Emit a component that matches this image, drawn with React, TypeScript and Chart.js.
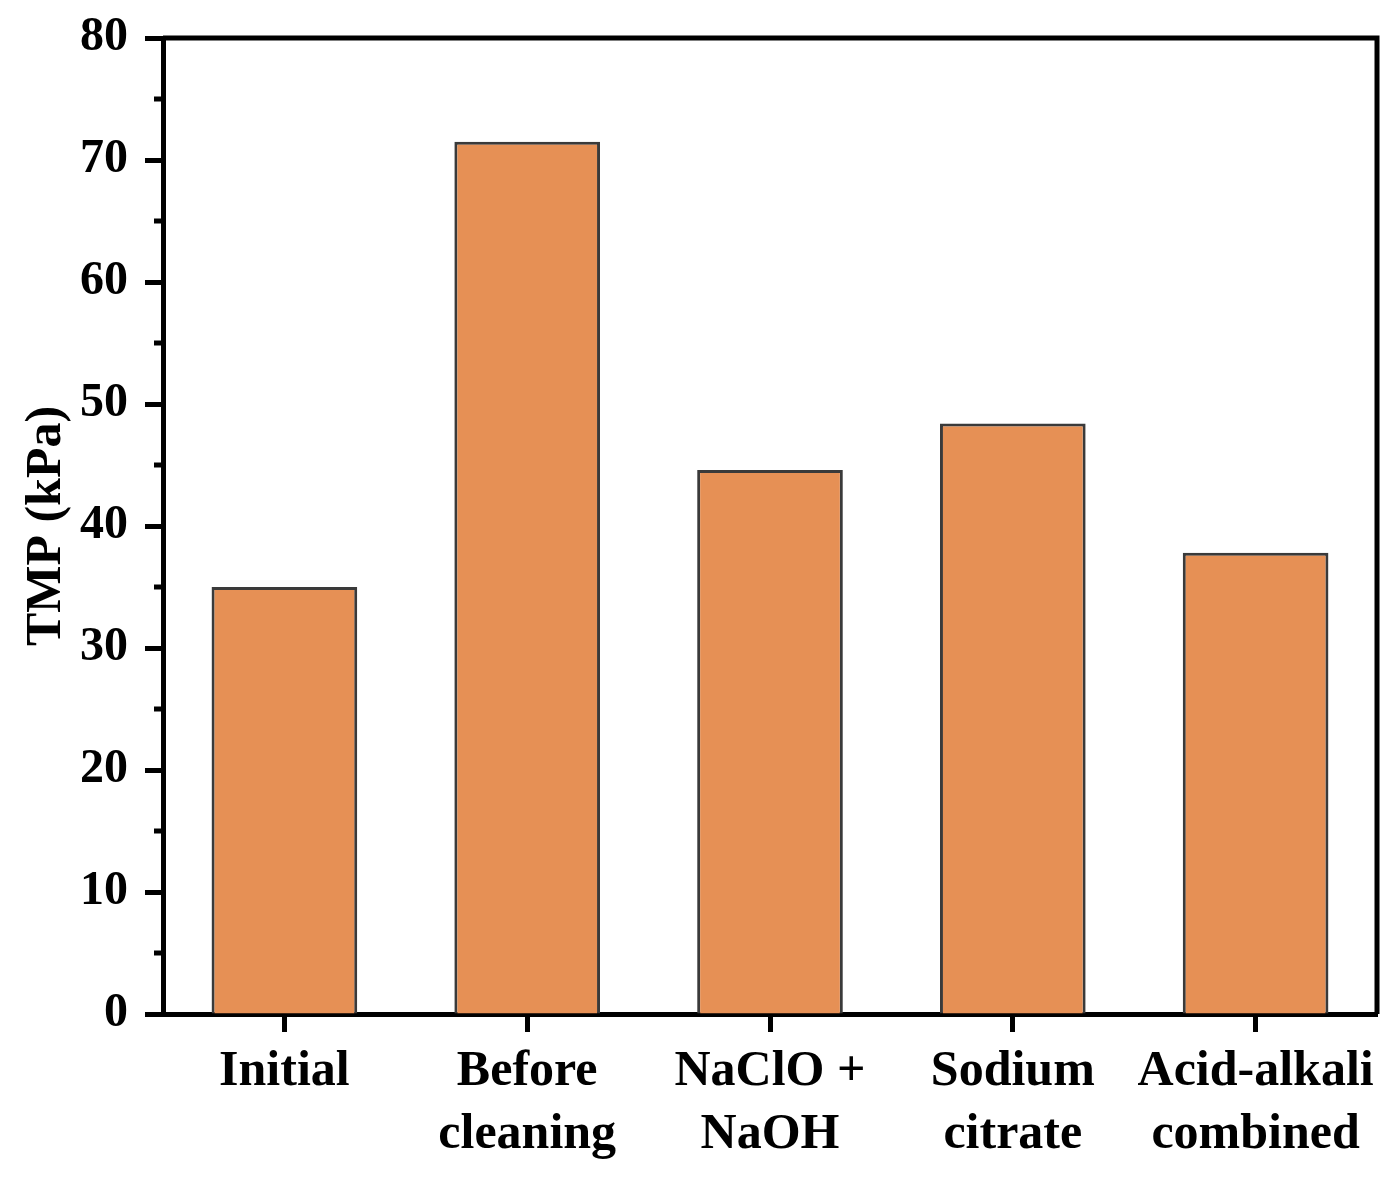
import React, { useEffect, useRef } from "react";
import { Chart, registerables } from "chart.js";

Chart.register(...registerables);

const categories: string[][] = [
  ["Initial"],
  ["Before", "cleaning"],
  ["NaClO +", "NaOH"],
  ["Sodium", "citrate"],
  ["Acid-alkali", "combined"],
];
const tmpValues: number[] = [35, 71.5, 44.6, 48.4, 37.8];
const minorTickValues: number[] = [5, 15, 25, 35, 45, 55, 65, 75];

const FONT = "'Liberation Serif', 'Times New Roman', serif";

export default function App() {
  const ref = useRef<HTMLCanvasElement | null>(null);

  useEffect(() => {
    document.body.style.margin = "0";
    if (!ref.current) return;

    const framePlugin = {
      id: "frame",
      afterDraw(chart: any) {
        const { ctx, chartArea } = chart;
        const { left, right, top, bottom } = chartArea;
        ctx.save();
        ctx.strokeStyle = "#000";
        ctx.lineWidth = 5;
        ctx.beginPath();
        ctx.moveTo(left, top);
        ctx.lineTo(right, top);
        ctx.lineTo(right, bottom);
        ctx.stroke();
        const y = chart.scales.y;
        minorTickValues.forEach((v) => {
          const py = y.getPixelForValue(v);
          ctx.beginPath();
          ctx.moveTo(left - 9, py);
          ctx.lineTo(left, py);
          ctx.stroke();
        });
        ctx.restore();
      },
    };

    const chart = new Chart(ref.current, {
      type: "bar",
      data: {
        labels: categories,
        datasets: [
          {
            data: tmpValues,
            backgroundColor: "#E69055",
            borderColor: "#3a3a3a",
            borderWidth: 3,
            categoryPercentage: 1,
            barPercentage: 0.6,
          },
        ],
      },
      options: {
        responsive: false,
        animation: false,
        devicePixelRatio: 1,
        layout: { padding: { top: 38, right: 20, left: 0, bottom: 0 } },
        plugins: { legend: { display: false }, tooltip: { enabled: false } },
        scales: {
          x: {
            afterFit(scale: any) {
              scale.height = 173;
            },
            grid: {
              offset: false,
              drawOnChartArea: false,
              drawTicks: true,
              tickLength: 18,
              tickWidth: 5,
              tickColor: "#000",
            },
            border: { display: true, color: "#000", width: 5 },
            ticks: {
              color: "#000",
              padding: 9,
              maxRotation: 0,
              autoSkip: false,
              font: { family: FONT, size: 50, weight: "bold", lineHeight: 1.25 },
            },
          },
          y: {
            min: 0,
            max: 80,
            afterFit(scale: any) {
              scale.width = 163;
            },
            grid: {
              drawOnChartArea: false,
              drawTicks: true,
              tickLength: 18,
              tickWidth: 5,
              tickColor: "#000",
            },
            border: { display: true, color: "#000", width: 5 },
            ticks: {
              stepSize: 10,
              color: "#000",
              padding: 17,
              font: { family: FONT, size: 48, weight: "bold", lineHeight: 0.85 },
            },
            title: {
              display: true,
              text: "TMP (kPa)",
              color: "#000",
              padding: { top: 17, bottom: 0 },
              font: { family: FONT, size: 50, weight: "bold", lineHeight: 1.2 },
            },
          },
        },
      },
      plugins: [framePlugin],
    });

    return () => chart.destroy();
  }, []);

  return (
    <div style={{ width: 1397, height: 1187 }}>
      <canvas ref={ref} width={1397} height={1187} style={{ display: "block" }} />
    </div>
  );
}
